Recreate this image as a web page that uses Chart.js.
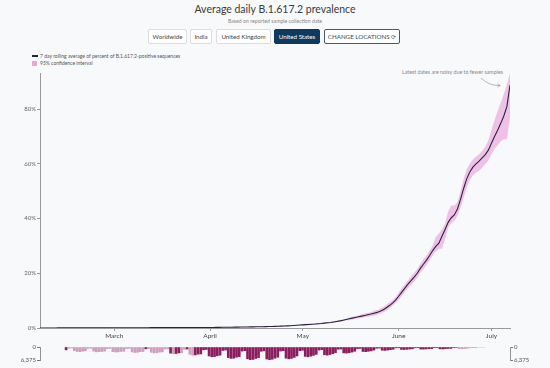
<!DOCTYPE html>
<html><head><meta charset="utf-8">
<script src="https://cdn.jsdelivr.net/npm/chart.js@4.4.1/dist/chart.umd.min.js"></script>
<style>
html,body{margin:0;padding:0;background:#f8f9fb;width:550px;height:368px;overflow:hidden;font-family:Lato,"DejaVu Sans",sans-serif;}
.abs{position:absolute;}
#title{left:0;width:550px;top:3px;text-align:center;font-size:10.5px;color:#3a3a3a;}
#subtitle{left:0;width:550px;top:18px;text-align:center;font-size:5.2px;color:#888;}
.btn{top:29px;height:15px;box-sizing:border-box;border:1px solid #dcdcdc;background:#fff;border-radius:2px;font-size:6.2px;color:#444;display:flex;align-items:center;justify-content:center;white-space:nowrap;}
.sel{background:#0e3a5e;border-color:#0e3a5e;color:#fff;}
.chg{border:1px solid #3f5d6e;color:#2e4a5a;}
.leg{font-size:5px;color:#555;white-space:nowrap;}
#note{left:402px;top:69px;font-size:5.3px;color:#888;white-space:nowrap;}
</style></head>
<body>
<div id="title" class="abs">Average daily B.1.617.2 prevalence</div>
<div id="subtitle" class="abs">Based on reported sample collection date</div>
<div class="abs btn" style="left:148px;width:39px;">Worldwide</div>
<div class="abs btn" style="left:190px;width:22px;">India</div>
<div class="abs btn" style="left:216px;width:55px;">United Kingdom</div>
<div class="abs btn sel" style="left:274px;width:46px;">United States</div>
<div class="abs btn chg" style="left:324px;width:76px;">CHANGE LOCATIONS&nbsp;<span style="font-family:'DejaVu Sans';font-size:6px;">⟳</span></div>
<div class="abs" style="left:32px;top:55px;width:6px;height:1.5px;background:#2a2240;"></div>
<div class="abs leg" style="left:40px;top:53px;">7 day rolling average of percent of B.1.617.2-positive sequences</div>
<div class="abs" style="left:32px;top:61px;width:5px;height:5px;background:#e8a6da;"></div>
<div class="abs leg" style="left:40px;top:60px;">95% confidence interval</div>
<div id="note" class="abs">Latest dates are noisy due to fewer samples</div>
<svg class="abs" style="left:0;top:0;" width="550" height="368">
  <path d="M481 78 Q 489 86 500 85.5" fill="none" stroke="#999" stroke-width="0.7"/>
  <path d="M497.5 83.8 L500.3 85.5 L497.6 87.2" fill="none" stroke="#999" stroke-width="0.7"/>
</svg>
<div class="abs" style="left:0;top:60px;"><canvas id="main" width="550" height="282"></canvas></div>
<div class="abs" style="left:0;top:340px;"><canvas id="bars" width="550" height="28"></canvas></div>
<script>
// Day 0 = 5 Feb 2021, day 152 = 7 Jul 2021
const monthTickDays = [24, 55, 85, 116, 146];
const monthTickLabels = ['March', 'April', 'May', 'June', 'July'];
const yTickValues = [0, 20, 40, 60, 80];
const countTickValues = [0, 6375];

const prevalence = [
0.01,0.01,0.02,0.02,0.02,0.02,0.03,0.03,0.03,0.03,0.03,0.04,0.04,0.04,0.04,0.05,0.05,0.05,0.05,0.06,0.06,0.06,0.06,0.07,0.07,
0.07,0.08,0.08,0.08,0.09,0.09,0.10,0.10,0.10,0.11,0.11,0.12,0.12,0.12,0.13,0.13,0.14,0.14,0.15,0.15,0.15,0.16,0.16,0.17,0.17,0.17,0.18,0.18,0.19,0.19,
0.20,0.21,0.22,0.23,0.25,0.26,0.28,0.30,0.31,0.33,0.35,0.37,0.38,0.40,0.42,0.44,0.46,0.48,0.50,0.53,0.56,0.60,0.64,0.68,0.73,0.79,0.85,0.92,1.00,1.08,1.15,1.22,1.30,1.38,1.45,1.55,1.65,1.78,1.90,2.02,2.20,2.40,2.60,2.85,3.10,
3.35,3.6,3.85,4.1,4.35,4.6,4.85,5.1,5.4,5.7,6.1,6.7,7.4,8.2,9.1,10.2,11.6,13.1,14.6,16.0,17.3,18.6,20.0,21.8,23.3,24.8,26.5,28.3,
29.8,31.0,33.5,36.0,38.6,40.3,41.3,43.5,47.0,51.0,54.5,57.0,58.8,60.0,61.0,62.2,63.4,65.0,67.5,70.0,72.3,74.8,77.5,81.0,88.8];

const ciLower = [
0,0,0,0,0,0,0.01,0.01,0.01,0.01,0.01,0.02,0.02,0.02,0.02,0.03,0.03,0.03,0.03,0.04,0.04,0.04,0.04,0.05,0.05,
0.05,0.06,0.06,0.06,0.07,0.07,0.08,0.08,0.08,0.09,0.09,0.10,0.10,0.10,0.11,0.11,0.12,0.12,0.13,0.13,0.13,0.14,0.14,0.15,0.15,0.15,0.16,0.16,0.17,0.17,
0.16,0.17,0.18,0.19,0.21,0.22,0.24,0.26,0.27,0.29,0.31,0.33,0.34,0.36,0.38,
0.34,0.36,0.38,0.40,0.43,0.46,0.50,0.54,0.58,0.63,0.69,0.75,0.82,0.90,0.98,
0.90,0.97,1.05,1.13,1.20,1.30,1.40,1.53,1.65,1.77,1.95,2.15,2.35,2.60,2.85,
2.85,3.1,3.35,3.6,3.65,3.9,4.15,4.4,4.5,4.8,5.2,5.8,6.3,7.1,8.0,9.1,10.2,11.7,13.2,14.6,15.7,17.0,18.4,20.2,21.5,23.0,24.7,26.5,
28.0,29.0,29.0,32.5,36.6,38.3,39.1,41.0,44.0,47.5,51.3,54.0,55.8,56.8,57.5,58.6,59.9,61.2,63.5,65.5,66.8,68.3,69.0,69.0,76.8];

const ciUpper = [
0.04,0.04,0.05,0.05,0.05,0.05,0.06,0.06,0.06,0.06,0.06,0.07,0.07,0.07,0.07,0.08,0.08,0.08,0.08,0.09,0.09,0.09,0.09,0.10,0.10,
0.10,0.11,0.11,0.11,0.12,0.12,0.13,0.13,0.13,0.14,0.14,0.15,0.15,0.15,0.16,0.16,0.17,0.17,0.18,0.18,0.18,0.19,0.19,0.20,0.20,0.20,0.21,0.21,0.22,0.22,
0.25,0.26,0.27,0.28,0.30,0.31,0.33,0.35,0.36,0.38,0.40,0.42,0.43,0.45,0.47,
0.56,0.58,0.60,0.62,0.65,0.68,0.72,0.76,0.80,0.85,0.91,0.97,1.04,1.12,1.20,
1.45,1.52,1.60,1.68,1.75,1.85,1.95,2.08,2.20,2.32,2.50,2.70,2.90,3.15,3.40,
3.85,4.1,4.35,4.6,5.05,5.3,5.55,5.8,6.3,6.6,7.0,7.6,8.5,9.3,10.2,11.3,13.0,14.5,16.0,17.4,18.9,20.2,21.6,23.4,25.1,26.6,28.3,30.1,
33.3,34.5,36.0,38.2,42.6,44.8,44.8,46.0,50.0,54.5,58.0,60.0,61.6,62.6,63.5,64.7,66.2,68.5,72.5,76.0,79.3,82.3,85.5,89.0,93.2];

const dailySequences = [
1400,600,500,1800,2200,2300,2100,
1900,700,600,2000,2400,2300,2200,
2000,800,700,2300,2500,2400,2200,
2100,800,700,2400,2700,2600,2300,
2200,900,800,2600,2900,2800,2500,
2400,1000,900,3000,3300,3200,2900,
2800,1100,1000,3600,4000,3900,3500,
3400,1400,1200,4400,4800,4700,4300,
4000,1700,1500,5200,5600,5500,5000,
4700,2000,1800,5800,6375,6100,5600,
5200,2100,1900,5900,6200,6000,5500,
5000,2000,1800,5500,5800,5600,5100,
4400,1800,1600,4600,4800,4500,4100,
3600,1500,1300,3800,4000,3700,3300,
2800,1100,1000,2900,3000,2800,2500,
2100,800,700,2200,2300,2100,1900,
1500,600,500,1600,1700,1500,1300,
1100,450,400,1200,1250,1150,1000,
900,400,350,1000,1050,950,850,
800,350,300,900,950,850,750,
700,300,250,800,850,750,650,
400,150,100,0,0,0];

const lineageFound = [
1,0,0,0,0,0,0,0,0,0,0,0,0,0,0,0,0,0,0,0,
0,0,0,0,0,0,0,0,0,1,0,0,0,0,0,0,0,0,1,0,
1,1,0,0,1,0,0,1,1,1,1,1,1,1,1,1,1,1,1,1,
1,1,1,1,1,1,1,1,1,1,1,1,1,1,1,1,1,1,1,1,
1,1,1,1,1,1,1,1,1,1,1,1,1,1,1,1,1,1,1,1,
1,1,1,1,1,1,1,1,1,1,1,1,1,1,1,1,1,1,1,1,
1,1,1,1,1,1,1,1,1,1,1,1,1,1,1,1,1,1,1,1,
1,1,1,0,0,0,0,0,0,0,0,0,0];

const lastDay = prevalence.length - 1;
const pts = arr => arr.map((v, i) => ({x: i, y: v}));
Chart.defaults.font.family = 'Lato, "DejaVu Sans", sans-serif';
Chart.defaults.animation = false;

new Chart(document.getElementById('main'), {
  type: 'line',
  data: {datasets: [
    {label: 'avg', data: pts(prevalence), borderColor: '#2a2240', borderWidth: 1.1, pointRadius: 0, fill: false, order: 0},
    {label: 'lo', data: pts(ciLower), borderWidth: 0, borderColor: 'rgba(0,0,0,0)', pointRadius: 0, fill: false, order: 1},
    {label: 'hi', data: pts(ciUpper), borderWidth: 0, borderColor: 'rgba(0,0,0,0)', pointRadius: 0, fill: 1, backgroundColor: '#efc1e6', order: 1}
  ]},
  options: {
    responsive: false,
    layout: {padding: {top: 13, right: 40, left: 0, bottom: 0}},
    plugins: {legend: {display: false}, tooltip: {enabled: false}},
    scales: {
      x: {type: 'linear', min: 0, max: lastDay,
        afterBuildTicks: s => { s.ticks = monthTickDays.map(v => ({value: v})); },
        afterFit: s => { s.height = 14; },
        grid: {drawOnChartArea: false, tickLength: 3, color: '#999'},
        border: {color: '#999', width: 1},
        ticks: {autoSkip: false, maxRotation: 0, padding: 1, color: '#444', font: {size: 6.5},
          callback: v => monthTickLabels[monthTickDays.indexOf(v)]}
      },
      y: {min: 0, max: 93.2,
        afterBuildTicks: s => { s.ticks = yTickValues.map(v => ({value: v})); },
        afterFit: s => { s.width = 40; },
        grid: {drawOnChartArea: false, tickLength: 3, color: '#999'},
        border: {color: '#999', width: 1},
        ticks: {padding: 1, color: '#666', font: {size: 6}, callback: v => v + '%'}
      }
    }
  }
});

const found = dailySequences.map((v, i) => ({x: i, y: lineageFound[i] ? v : null}));
const notFound = dailySequences.map((v, i) => ({x: i, y: lineageFound[i] ? null : v}));
const countAxis = (pos) => ({
  position: pos, min: 0, max: countTickValues[1], reverse: true,
  afterBuildTicks: s => { s.ticks = countTickValues.map(v => ({value: v})); },
  afterFit: s => { s.width = 40; },
  grid: {drawOnChartArea: false, tickLength: 3, color: '#777'},
  border: {color: '#777', width: 0.8},
  ticks: {padding: 1, color: '#555', font: {size: 6}, callback: v => v.toLocaleString('en-US')}
});
new Chart(document.getElementById('bars'), {
  type: 'bar',
  data: {datasets: [
    {data: found, backgroundColor: '#8c1c5e', barThickness: 2, grouped: false, yAxisID: 'y'},
    {data: notFound, backgroundColor: '#cf9fbf', barThickness: 2, grouped: false, yAxisID: 'y'}
  ]},
  options: {
    responsive: false,
    layout: {padding: {top: 7, bottom: 8, left: 0, right: 0}},
    plugins: {legend: {display: false}, tooltip: {enabled: false}},
    scales: {
      x: {type: 'linear', min: 0, max: lastDay, display: false},
      y: countAxis('left'),
      yR: countAxis('right')
    }
  }
});
</script>
</body></html>
